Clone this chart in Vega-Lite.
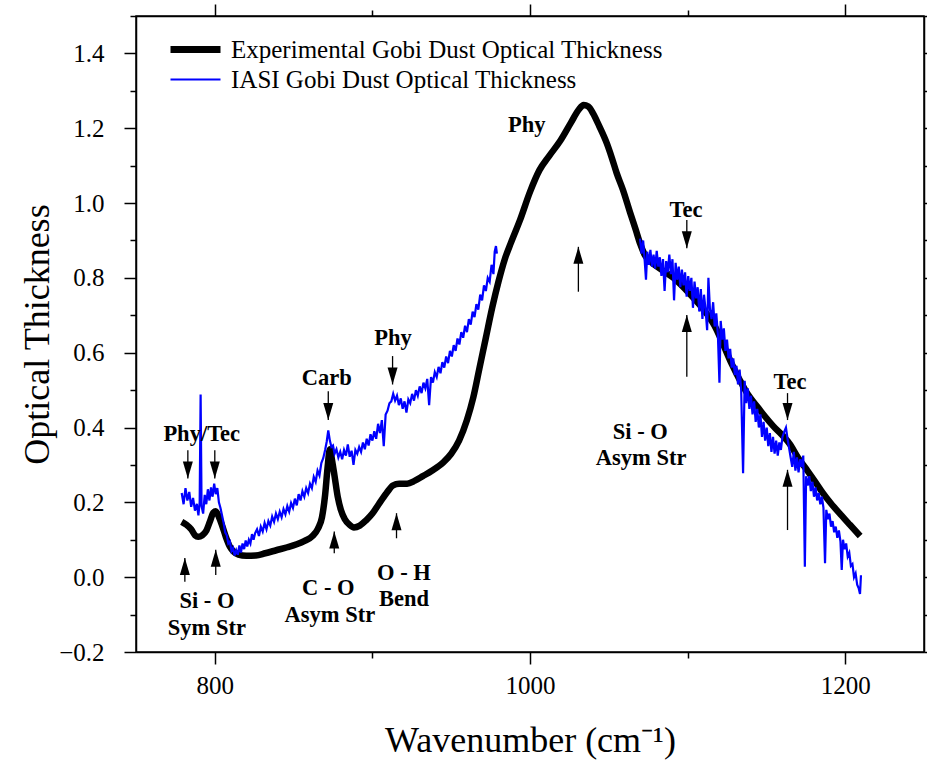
{
  "$schema": "https://vega.github.io/schema/vega-lite/v6.json",
  "width": 788,
  "height": 636,
  "autosize": {"type": "none"},
  "padding": {"left": 136, "top": 16, "right": 3, "bottom": 110},
  "background": "white",
  "config": {
    "view": {"stroke": "black", "strokeWidth": 1.5},
    "font": "Liberation Serif",
    "axis": {"grid": false, "domainColor": "black", "domainWidth": 1.5, "tickColor": "black", "tickWidth": 1.5, "labelColor": "black", "titleColor": "black", "labelFont": "Liberation Serif", "titleFont": "Liberation Serif", "titleFontWeight": "normal"}
  },
  "datasets": {
    "exp": [
      {"w": 779, "v": 0.148}, {"w": 782, "v": 0.14}, {"w": 785, "v": 0.128}, {"w": 787.5, "v": 0.112}, {"w": 789.5, "v": 0.108},
      {"w": 792, "v": 0.112}, {"w": 794.7, "v": 0.125}, {"w": 797, "v": 0.15}, {"w": 799, "v": 0.172}, {"w": 800.5, "v": 0.176},
      {"w": 802.5, "v": 0.162}, {"w": 804.5, "v": 0.14}, {"w": 807, "v": 0.108}, {"w": 809.5, "v": 0.082}, {"w": 812, "v": 0.068},
      {"w": 815, "v": 0.06}, {"w": 820, "v": 0.057}, {"w": 826, "v": 0.058}, {"w": 832, "v": 0.064}, {"w": 839, "v": 0.072},
      {"w": 846, "v": 0.08}, {"w": 852, "v": 0.088}, {"w": 857, "v": 0.097}, {"w": 862, "v": 0.11}, {"w": 865.5, "v": 0.13},
      {"w": 868, "v": 0.16}, {"w": 870, "v": 0.22}, {"w": 871.5, "v": 0.29}, {"w": 873, "v": 0.342}, {"w": 874.5, "v": 0.31},
      {"w": 876, "v": 0.27}, {"w": 878, "v": 0.215}, {"w": 880, "v": 0.18}, {"w": 882.5, "v": 0.155}, {"w": 885.5, "v": 0.14},
      {"w": 888.3, "v": 0.133}, {"w": 892, "v": 0.138}, {"w": 896, "v": 0.152}, {"w": 900, "v": 0.17}, {"w": 904, "v": 0.195},
      {"w": 909, "v": 0.225}, {"w": 913, "v": 0.245}, {"w": 917, "v": 0.25}, {"w": 922, "v": 0.25}, {"w": 927, "v": 0.258},
      {"w": 932, "v": 0.27}, {"w": 938, "v": 0.285}, {"w": 945, "v": 0.307}, {"w": 950, "v": 0.33}, {"w": 955, "v": 0.365},
      {"w": 960, "v": 0.42}, {"w": 964, "v": 0.48}, {"w": 968, "v": 0.56}, {"w": 972, "v": 0.64}, {"w": 976, "v": 0.72},
      {"w": 980, "v": 0.79}, {"w": 984, "v": 0.85}, {"w": 988, "v": 0.895}, {"w": 993.7, "v": 0.955}, {"w": 1000, "v": 1.03},
      {"w": 1006, "v": 1.088}, {"w": 1012, "v": 1.125}, {"w": 1019, "v": 1.165}, {"w": 1026, "v": 1.215}, {"w": 1031, "v": 1.25},
      {"w": 1034, "v": 1.262}, {"w": 1037, "v": 1.258}, {"w": 1040, "v": 1.24}, {"w": 1044, "v": 1.205}, {"w": 1048.7, "v": 1.16},
      {"w": 1052, "v": 1.12}, {"w": 1055, "v": 1.08}, {"w": 1059, "v": 1.035}, {"w": 1063.5, "v": 0.975}, {"w": 1067, "v": 0.93},
      {"w": 1070, "v": 0.89}, {"w": 1073, "v": 0.86}, {"w": 1076, "v": 0.845}, {"w": 1080, "v": 0.832}, {"w": 1091, "v": 0.8},
      {"w": 1101.6, "v": 0.756}, {"w": 1112, "v": 0.705}, {"w": 1118, "v": 0.665}, {"w": 1123, "v": 0.618}, {"w": 1128, "v": 0.57},
      {"w": 1133, "v": 0.528}, {"w": 1138, "v": 0.49}, {"w": 1144, "v": 0.457}, {"w": 1149, "v": 0.43}, {"w": 1154.5, "v": 0.403},
      {"w": 1160, "v": 0.38}, {"w": 1165, "v": 0.355}, {"w": 1170, "v": 0.32}, {"w": 1176, "v": 0.285}, {"w": 1181, "v": 0.255},
      {"w": 1186, "v": 0.224}, {"w": 1191, "v": 0.197}, {"w": 1197, "v": 0.168}, {"w": 1203, "v": 0.14}, {"w": 1209.5, "v": 0.11}
    ],
    "iasi": [
      {"g": 1, "w": 779.0, "v": 0.225}, {"g": 1, "w": 780.2, "v": 0.195}, {"g": 1, "w": 781.4, "v": 0.238}, {"g": 1, "w": 782.6, "v": 0.205},
      {"g": 1, "w": 783.8, "v": 0.228}, {"g": 1, "w": 785.0, "v": 0.188}, {"g": 1, "w": 786.2, "v": 0.212}, {"g": 1, "w": 787.4, "v": 0.178},
      {"g": 1, "w": 788.6, "v": 0.196}, {"g": 1, "w": 789.6, "v": 0.165}, {"g": 1, "w": 790.4, "v": 0.2}, {"g": 1, "w": 791.0, "v": 0.488},
      {"g": 1, "w": 791.6, "v": 0.19}, {"g": 1, "w": 792.6, "v": 0.17}, {"g": 1, "w": 793.6, "v": 0.22}, {"g": 1, "w": 794.6, "v": 0.195},
      {"g": 1, "w": 795.6, "v": 0.235}, {"g": 1, "w": 796.6, "v": 0.205}, {"g": 1, "w": 797.6, "v": 0.24}, {"g": 1, "w": 798.6, "v": 0.215},
      {"g": 1, "w": 799.6, "v": 0.25}, {"g": 1, "w": 800.6, "v": 0.222}, {"g": 1, "w": 801.6, "v": 0.238}, {"g": 1, "w": 802.6, "v": 0.2},
      {"g": 1, "w": 803.6, "v": 0.185}, {"g": 1, "w": 804.6, "v": 0.165}, {"g": 1, "w": 805.6, "v": 0.145}, {"g": 1, "w": 806.6, "v": 0.12},
      {"g": 1, "w": 807.6, "v": 0.112}, {"g": 1, "w": 808.6, "v": 0.09}, {"g": 1, "w": 809.6, "v": 0.095}, {"g": 1, "w": 810.6, "v": 0.07},
      {"g": 1, "w": 811.6, "v": 0.078}, {"g": 1, "w": 812.6, "v": 0.058}, {"g": 1, "w": 813.6, "v": 0.072}, {"g": 1, "w": 814.6, "v": 0.06},
      {"g": 1, "w": 815.6, "v": 0.085}, {"g": 1, "w": 816.6, "v": 0.066}, {"g": 1, "w": 817.6, "v": 0.09}, {"g": 1, "w": 818.6, "v": 0.075},
      {"g": 1, "w": 819.6, "v": 0.098}, {"g": 1, "w": 820.6, "v": 0.082}, {"g": 1, "w": 821.6, "v": 0.1}, {"g": 1, "w": 822.6, "v": 0.09},
      {"g": 1, "w": 823.6, "v": 0.115}, {"g": 1, "w": 824.6, "v": 0.1}, {"g": 1, "w": 825.6, "v": 0.118}, {"g": 1, "w": 826.8, "v": 0.128},
      {"g": 1, "w": 828.0, "v": 0.11}, {"g": 1, "w": 829.2, "v": 0.135}, {"g": 1, "w": 830.4, "v": 0.122}, {"g": 1, "w": 831.6, "v": 0.145},
      {"g": 1, "w": 832.8, "v": 0.128}, {"g": 1, "w": 834.0, "v": 0.15}, {"g": 1, "w": 835.2, "v": 0.138}, {"g": 1, "w": 836.4, "v": 0.162},
      {"g": 1, "w": 837.6, "v": 0.148}, {"g": 1, "w": 838.8, "v": 0.17}, {"g": 1, "w": 840.0, "v": 0.155}, {"g": 1, "w": 841.2, "v": 0.175},
      {"g": 1, "w": 842.4, "v": 0.16}, {"g": 1, "w": 843.6, "v": 0.182}, {"g": 1, "w": 844.8, "v": 0.168}, {"g": 1, "w": 846.0, "v": 0.19},
      {"g": 1, "w": 847.2, "v": 0.175}, {"g": 1, "w": 848.4, "v": 0.198}, {"g": 1, "w": 849.6, "v": 0.185}, {"g": 1, "w": 850.8, "v": 0.21},
      {"g": 1, "w": 852.0, "v": 0.192}, {"g": 1, "w": 853.2, "v": 0.222}, {"g": 1, "w": 854.4, "v": 0.205}, {"g": 1, "w": 855.6, "v": 0.23},
      {"g": 1, "w": 856.8, "v": 0.215}, {"g": 1, "w": 858.0, "v": 0.238}, {"g": 1, "w": 859.2, "v": 0.225}, {"g": 1, "w": 860.4, "v": 0.25},
      {"g": 1, "w": 861.6, "v": 0.238}, {"g": 1, "w": 862.8, "v": 0.268}, {"g": 1, "w": 864.0, "v": 0.255}, {"g": 1, "w": 865.2, "v": 0.285},
      {"g": 1, "w": 866.4, "v": 0.272}, {"g": 1, "w": 867.6, "v": 0.305}, {"g": 1, "w": 868.8, "v": 0.318}, {"g": 1, "w": 870.0, "v": 0.34},
      {"g": 1, "w": 871.0, "v": 0.362}, {"g": 1, "w": 872.0, "v": 0.392}, {"g": 1, "w": 873.0, "v": 0.365}, {"g": 1, "w": 874.0, "v": 0.348},
      {"g": 1, "w": 875.0, "v": 0.352}, {"g": 1, "w": 876.0, "v": 0.33}, {"g": 1, "w": 877.2, "v": 0.342}, {"g": 1, "w": 878.4, "v": 0.32},
      {"g": 1, "w": 879.6, "v": 0.335}, {"g": 1, "w": 880.8, "v": 0.315}, {"g": 1, "w": 882.0, "v": 0.34}, {"g": 1, "w": 883.2, "v": 0.325},
      {"g": 1, "w": 884.4, "v": 0.355}, {"g": 1, "w": 885.6, "v": 0.322}, {"g": 1, "w": 886.8, "v": 0.338}, {"g": 1, "w": 888.0, "v": 0.3},
      {"g": 1, "w": 889.2, "v": 0.34}, {"g": 1, "w": 890.4, "v": 0.33}, {"g": 1, "w": 891.6, "v": 0.348}, {"g": 1, "w": 892.8, "v": 0.335},
      {"g": 1, "w": 894.0, "v": 0.36}, {"g": 1, "w": 895.2, "v": 0.342}, {"g": 1, "w": 896.4, "v": 0.37}, {"g": 1, "w": 897.6, "v": 0.352},
      {"g": 1, "w": 898.8, "v": 0.382}, {"g": 1, "w": 900.0, "v": 0.365}, {"g": 1, "w": 901.2, "v": 0.39}, {"g": 1, "w": 902.4, "v": 0.37},
      {"g": 1, "w": 903.6, "v": 0.41}, {"g": 1, "w": 904.8, "v": 0.385}, {"g": 1, "w": 906.0, "v": 0.42}, {"g": 1, "w": 907.2, "v": 0.35},
      {"g": 1, "w": 908.4, "v": 0.435}, {"g": 1, "w": 909.6, "v": 0.445}, {"g": 1, "w": 910.8, "v": 0.465}, {"g": 1, "w": 912.0, "v": 0.47},
      {"g": 1, "w": 913.2, "v": 0.49}, {"g": 1, "w": 914.4, "v": 0.472}, {"g": 1, "w": 915.6, "v": 0.485}, {"g": 1, "w": 916.8, "v": 0.46},
      {"g": 1, "w": 918.0, "v": 0.478}, {"g": 1, "w": 919.2, "v": 0.45}, {"g": 1, "w": 920.4, "v": 0.47}, {"g": 1, "w": 921.6, "v": 0.44},
      {"g": 1, "w": 922.8, "v": 0.475}, {"g": 1, "w": 924.0, "v": 0.465}, {"g": 1, "w": 925.2, "v": 0.49}, {"g": 1, "w": 926.4, "v": 0.472},
      {"g": 1, "w": 927.6, "v": 0.5}, {"g": 1, "w": 928.8, "v": 0.485}, {"g": 1, "w": 930.0, "v": 0.51}, {"g": 1, "w": 931.2, "v": 0.492},
      {"g": 1, "w": 932.4, "v": 0.52}, {"g": 1, "w": 933.6, "v": 0.505}, {"g": 1, "w": 934.8, "v": 0.53}, {"g": 1, "w": 936.0, "v": 0.46},
      {"g": 1, "w": 937.2, "v": 0.535}, {"g": 1, "w": 938.4, "v": 0.52}, {"g": 1, "w": 939.6, "v": 0.548}, {"g": 1, "w": 940.8, "v": 0.535},
      {"g": 1, "w": 942.0, "v": 0.562}, {"g": 1, "w": 943.2, "v": 0.545}, {"g": 1, "w": 944.4, "v": 0.575}, {"g": 1, "w": 945.6, "v": 0.56},
      {"g": 1, "w": 946.8, "v": 0.59}, {"g": 1, "w": 948.0, "v": 0.572}, {"g": 1, "w": 949.2, "v": 0.605}, {"g": 1, "w": 950.4, "v": 0.59},
      {"g": 1, "w": 951.6, "v": 0.62}, {"g": 1, "w": 952.8, "v": 0.605}, {"g": 1, "w": 954.0, "v": 0.638}, {"g": 1, "w": 955.2, "v": 0.622},
      {"g": 1, "w": 956.4, "v": 0.655}, {"g": 1, "w": 957.6, "v": 0.64}, {"g": 1, "w": 958.8, "v": 0.672}, {"g": 1, "w": 960.0, "v": 0.655},
      {"g": 1, "w": 961.2, "v": 0.69}, {"g": 1, "w": 962.4, "v": 0.675}, {"g": 1, "w": 963.6, "v": 0.71}, {"g": 1, "w": 964.8, "v": 0.695},
      {"g": 1, "w": 966.0, "v": 0.73}, {"g": 1, "w": 967.2, "v": 0.715}, {"g": 1, "w": 968.4, "v": 0.755}, {"g": 1, "w": 969.6, "v": 0.74},
      {"g": 1, "w": 970.8, "v": 0.78}, {"g": 1, "w": 972.0, "v": 0.765}, {"g": 1, "w": 973.2, "v": 0.8}, {"g": 1, "w": 974.4, "v": 0.79},
      {"g": 1, "w": 975.6, "v": 0.835}, {"g": 1, "w": 976.8, "v": 0.81}, {"g": 1, "w": 977.6, "v": 0.87}, {"g": 1, "w": 978.4, "v": 0.885},
      {"g": 1, "w": 979.0, "v": 0.865},
      {"g": 2, "w": 1069.8, "v": 0.905}, {"g": 2, "w": 1070.8, "v": 0.865}, {"g": 2, "w": 1071.8, "v": 0.9}, {"g": 2, "w": 1072.8, "v": 0.845},
      {"g": 2, "w": 1073.6, "v": 0.795}, {"g": 2, "w": 1074.4, "v": 0.87}, {"g": 2, "w": 1075.4, "v": 0.835}, {"g": 2, "w": 1076.4, "v": 0.875},
      {"g": 2, "w": 1077.4, "v": 0.83}, {"g": 2, "w": 1078.4, "v": 0.862}, {"g": 2, "w": 1079.4, "v": 0.825}, {"g": 2, "w": 1080.4, "v": 0.872},
      {"g": 2, "w": 1081.4, "v": 0.83}, {"g": 2, "w": 1082.4, "v": 0.855}, {"g": 2, "w": 1083.4, "v": 0.805}, {"g": 2, "w": 1084.4, "v": 0.85},
      {"g": 2, "w": 1085.4, "v": 0.765}, {"g": 2, "w": 1086.4, "v": 0.845}, {"g": 2, "w": 1087.4, "v": 0.815}, {"g": 2, "w": 1088.4, "v": 0.862},
      {"g": 2, "w": 1089.4, "v": 0.81}, {"g": 2, "w": 1090.4, "v": 0.85}, {"g": 2, "w": 1091.4, "v": 0.74}, {"g": 2, "w": 1092.4, "v": 0.84},
      {"g": 2, "w": 1093.4, "v": 0.795}, {"g": 2, "w": 1094.4, "v": 0.83}, {"g": 2, "w": 1095.4, "v": 0.775}, {"g": 2, "w": 1096.4, "v": 0.822},
      {"g": 2, "w": 1097.4, "v": 0.78}, {"g": 2, "w": 1098.4, "v": 0.815}, {"g": 2, "w": 1099.4, "v": 0.75}, {"g": 2, "w": 1100.4, "v": 0.805},
      {"g": 2, "w": 1101.4, "v": 0.765}, {"g": 2, "w": 1102.4, "v": 0.8}, {"g": 2, "w": 1103.4, "v": 0.72}, {"g": 2, "w": 1104.4, "v": 0.79},
      {"g": 2, "w": 1105.4, "v": 0.745}, {"g": 2, "w": 1106.4, "v": 0.775}, {"g": 2, "w": 1107.4, "v": 0.71}, {"g": 2, "w": 1108.4, "v": 0.77},
      {"g": 2, "w": 1109.4, "v": 0.69}, {"g": 2, "w": 1110.4, "v": 0.755}, {"g": 2, "w": 1111.4, "v": 0.715}, {"g": 2, "w": 1112.4, "v": 0.66},
      {"g": 2, "w": 1113.2, "v": 0.8}, {"g": 2, "w": 1114.2, "v": 0.715}, {"g": 2, "w": 1115.2, "v": 0.69}, {"g": 2, "w": 1116.2, "v": 0.735},
      {"g": 2, "w": 1117.2, "v": 0.67}, {"g": 2, "w": 1118.2, "v": 0.705}, {"g": 2, "w": 1119.2, "v": 0.65}, {"g": 2, "w": 1120.2, "v": 0.52},
      {"g": 2, "w": 1121.0, "v": 0.685}, {"g": 2, "w": 1122.0, "v": 0.635}, {"g": 2, "w": 1123.0, "v": 0.665}, {"g": 2, "w": 1124.0, "v": 0.605},
      {"g": 2, "w": 1125.0, "v": 0.635}, {"g": 2, "w": 1126.0, "v": 0.585}, {"g": 2, "w": 1127.0, "v": 0.61}, {"g": 2, "w": 1128.0, "v": 0.56},
      {"g": 2, "w": 1129.0, "v": 0.585}, {"g": 2, "w": 1130.0, "v": 0.54}, {"g": 2, "w": 1131.0, "v": 0.565}, {"g": 2, "w": 1132.0, "v": 0.515},
      {"g": 2, "w": 1133.0, "v": 0.555}, {"g": 2, "w": 1134.0, "v": 0.5}, {"g": 2, "w": 1135.2, "v": 0.278}, {"g": 2, "w": 1136.2, "v": 0.525},
      {"g": 2, "w": 1137.2, "v": 0.465}, {"g": 2, "w": 1138.2, "v": 0.505}, {"g": 2, "w": 1139.2, "v": 0.45}, {"g": 2, "w": 1140.2, "v": 0.485},
      {"g": 2, "w": 1141.2, "v": 0.435}, {"g": 2, "w": 1142.2, "v": 0.47}, {"g": 2, "w": 1143.2, "v": 0.415}, {"g": 2, "w": 1144.2, "v": 0.45},
      {"g": 2, "w": 1145.2, "v": 0.4}, {"g": 2, "w": 1146.2, "v": 0.435}, {"g": 2, "w": 1147.2, "v": 0.375}, {"g": 2, "w": 1148.2, "v": 0.415},
      {"g": 2, "w": 1149.2, "v": 0.365}, {"g": 2, "w": 1150.2, "v": 0.4}, {"g": 2, "w": 1151.2, "v": 0.35}, {"g": 2, "w": 1152.2, "v": 0.385},
      {"g": 2, "w": 1153.2, "v": 0.335}, {"g": 2, "w": 1154.2, "v": 0.375}, {"g": 2, "w": 1155.2, "v": 0.33}, {"g": 2, "w": 1156.2, "v": 0.365},
      {"g": 2, "w": 1157.2, "v": 0.325}, {"g": 2, "w": 1158.2, "v": 0.36}, {"g": 2, "w": 1159.2, "v": 0.34}, {"g": 2, "w": 1160.2, "v": 0.375},
      {"g": 2, "w": 1161.4, "v": 0.39}, {"g": 2, "w": 1162.4, "v": 0.4}, {"g": 2, "w": 1163.4, "v": 0.37}, {"g": 2, "w": 1164.4, "v": 0.345},
      {"g": 2, "w": 1165.4, "v": 0.32}, {"g": 2, "w": 1166.4, "v": 0.295}, {"g": 2, "w": 1167.4, "v": 0.335}, {"g": 2, "w": 1168.4, "v": 0.285},
      {"g": 2, "w": 1169.4, "v": 0.32}, {"g": 2, "w": 1170.4, "v": 0.28}, {"g": 2, "w": 1171.4, "v": 0.315}, {"g": 2, "w": 1172.4, "v": 0.295},
      {"g": 2, "w": 1173.4, "v": 0.325}, {"g": 2, "w": 1174.4, "v": 0.028}, {"g": 2, "w": 1175.2, "v": 0.27}, {"g": 2, "w": 1176.2, "v": 0.245},
      {"g": 2, "w": 1177.2, "v": 0.27}, {"g": 2, "w": 1178.2, "v": 0.23}, {"g": 2, "w": 1179.2, "v": 0.255}, {"g": 2, "w": 1180.2, "v": 0.215},
      {"g": 2, "w": 1181.2, "v": 0.24}, {"g": 2, "w": 1182.2, "v": 0.205}, {"g": 2, "w": 1183.2, "v": 0.225}, {"g": 2, "w": 1184.2, "v": 0.195},
      {"g": 2, "w": 1185.2, "v": 0.215}, {"g": 2, "w": 1186.2, "v": 0.185}, {"g": 2, "w": 1187.2, "v": 0.037}, {"g": 2, "w": 1188.0, "v": 0.18},
      {"g": 2, "w": 1189.0, "v": 0.155}, {"g": 2, "w": 1190.0, "v": 0.17}, {"g": 2, "w": 1191.0, "v": 0.135}, {"g": 2, "w": 1192.0, "v": 0.15},
      {"g": 2, "w": 1193.0, "v": 0.12}, {"g": 2, "w": 1194.0, "v": 0.135}, {"g": 2, "w": 1195.0, "v": 0.105}, {"g": 2, "w": 1196.0, "v": 0.125},
      {"g": 2, "w": 1197.0, "v": 0.095}, {"g": 2, "w": 1197.8, "v": 0.019}, {"g": 2, "w": 1198.6, "v": 0.1}, {"g": 2, "w": 1199.6, "v": 0.075},
      {"g": 2, "w": 1200.6, "v": 0.09}, {"g": 2, "w": 1201.6, "v": 0.055}, {"g": 2, "w": 1202.6, "v": 0.065}, {"g": 2, "w": 1203.6, "v": 0.03},
      {"g": 2, "w": 1204.6, "v": 0.035}, {"g": 2, "w": 1205.6, "v": 0.0}, {"g": 2, "w": 1206.6, "v": 0.01}, {"g": 2, "w": 1207.6, "v": -0.02},
      {"g": 2, "w": 1208.6, "v": -0.03}, {"g": 2, "w": 1209.4, "v": -0.045}, {"g": 2, "w": 1210.0, "v": 0.005}
    ],
    "notes": [
      {"w": 791.7, "v": 0.383, "t": "Phy/Tec"},
      {"w": 795, "v": -0.065, "t": "Si - O"},
      {"w": 795, "v": -0.136, "t": "Sym Str"},
      {"w": 871, "v": 0.532, "t": "Carb"},
      {"w": 872, "v": -0.03, "t": "C - O"},
      {"w": 873, "v": -0.101, "t": "Asym Str"},
      {"w": 920, "v": 0.01, "t": "O - H"},
      {"w": 920, "v": -0.059, "t": "Bend"},
      {"w": 913, "v": 0.64, "t": "Phy"},
      {"w": 998, "v": 1.209, "t": "Phy"},
      {"w": 1099, "v": 0.982, "t": "Tec"},
      {"w": 1070, "v": 0.389, "t": "Si - O"},
      {"w": 1070.5, "v": 0.318, "t": "Asym Str"},
      {"w": 1165, "v": 0.523, "t": "Tec"}
    ],
    "arrows": [
      {"w": 782.9, "tail": 0.339, "tip": 0.264, "d": "down"},
      {"w": 800, "tail": 0.339, "tip": 0.264, "d": "down"},
      {"w": 781, "tail": -0.012, "tip": 0.051, "d": "up"},
      {"w": 800.6, "tail": 0.006, "tip": 0.073, "d": "up"},
      {"w": 872, "tail": 0.497, "tip": 0.42, "d": "down"},
      {"w": 875.8, "tail": 0.064, "tip": 0.122, "d": "up"},
      {"w": 915.3, "tail": 0.104, "tip": 0.171, "d": "up"},
      {"w": 912.8, "tail": 0.591, "tip": 0.515, "d": "down"},
      {"w": 1030.7, "tail": 0.763, "tip": 0.883, "d": "up"},
      {"w": 1099.5, "tail": 0.955, "tip": 0.879, "d": "down"},
      {"w": 1099.5, "tail": 0.536, "tip": 0.701, "d": "up"},
      {"w": 1163.4, "tail": 0.492, "tip": 0.42, "d": "down"},
      {"w": 1163.4, "tail": 0.126, "tip": 0.287, "d": "up"}
    ]
  },
  "layer": [
    {
      "data": {"name": "exp"},
      "mark": {"type": "line", "interpolate": "monotone", "strokeWidth": 6.5, "strokeCap": "butt"},
      "encoding": {
        "x": {"field": "w", "type": "quantitative", "scale": {"domain": [750, 1250], "nice": false, "zero": false},
          "axis": {"orient": "bottom", "values": [800, 900, 1000, 1100, 1200], "format": "d", "labelExpr": "datum.value % 200 === 0 ? datum.label : ''",
            "tickSize": {"condition": {"test": "datum.value % 200 === 0", "value": 12}, "value": 6},
            "labelFontSize": 25, "labelPadding": 9, "title": "Wavenumber (cm⁻¹)", "titleFontSize": 36, "titlePadding": 25}},
        "y": {"field": "v", "type": "quantitative", "scale": {"domain": [-0.2, 1.5], "nice": false, "zero": false},
          "axis": {"orient": "left", "values": [-0.2, -0.1, 0, 0.1, 0.2, 0.3, 0.4, 0.5, 0.6, 0.7, 0.8, 0.9, 1.0, 1.1, 1.2, 1.3, 1.4, 1.5], "format": ".1f",
            "labelExpr": "abs(round(datum.value * 10)) % 2 === 0 ? datum.label : ''",
            "tickSize": {"condition": {"test": "abs(round(datum.value * 10)) % 2 === 0", "value": 12}, "value": 6},
            "labelFontSize": 25, "labelPadding": 20, "title": "Optical Thickness", "titleFontSize": 36, "titlePadding": 2}},
        "color": {"datum": "Experimental Gobi Dust Optical Thickness", "type": "nominal",
          "scale": {"domain": ["Experimental Gobi Dust Optical Thickness", "IASI Gobi Dust Optical Thickness"], "range": ["black", "#0000ff"]},
          "legend": {"title": null, "orient": "none", "legendX": 47, "legendY": 21, "symbolType": "stroke", "symbolSize": 2500,
            "labelFont": "Liberation Serif", "labelFontSize": 25, "labelColor": "black", "labelLimit": 0, "labelOffset": 23, "rowPadding": 3, "padding": 0,
            "encode": {"symbols": {"update": {"strokeWidth": {"signal": "datum.label === 'IASI Gobi Dust Optical Thickness' ? 2 : 7"}}}}}}
      }
    },
    {
      "data": {"name": "iasi"},
      "mark": {"type": "line", "strokeWidth": 2.2},
      "encoding": {
        "x": {"field": "w", "type": "quantitative",
          "axis": {"orient": "top", "values": [800, 900, 1000, 1100, 1200], "labels": false, "title": null,
            "tickSize": {"condition": {"test": "datum.value % 200 === 0", "value": 12}, "value": 6}}},
        "y": {"field": "v", "type": "quantitative",
          "axis": {"orient": "right", "values": [-0.2, -0.1, 0, 0.1, 0.2, 0.3, 0.4, 0.5, 0.6, 0.7, 0.8, 0.9, 1.0, 1.1, 1.2, 1.3, 1.4, 1.5], "labels": false, "title": null,
            "tickSize": {"condition": {"test": "abs(round(datum.value * 10)) % 2 === 0", "value": 12}, "value": 6}}},
        "detail": {"field": "g", "type": "nominal"},
        "color": {"datum": "IASI Gobi Dust Optical Thickness", "type": "nominal"}
      }
    },
    {
      "data": {"name": "arrows"},
      "mark": {"type": "rule", "color": "black", "strokeWidth": 1.3},
      "encoding": {
        "x": {"field": "w", "type": "quantitative", "axis": null},
        "y": {"field": "tail", "type": "quantitative", "axis": null},
        "y2": {"field": "tip"}
      }
    },
    {
      "data": {"name": "arrows"},
      "transform": [{"filter": "datum.d === 'up'"}],
      "mark": {"type": "point", "shape": "M0,0L1,3.4L-1,3.4Z", "filled": true, "color": "black", "opacity": 1, "size": 100, "strokeWidth": 0},
      "encoding": {
        "x": {"field": "w", "type": "quantitative", "axis": null},
        "y": {"field": "tip", "type": "quantitative", "axis": null}
      }
    },
    {
      "data": {"name": "arrows"},
      "transform": [{"filter": "datum.d === 'down'"}],
      "mark": {"type": "point", "shape": "M0,0L1,-3.4L-1,-3.4Z", "filled": true, "color": "black", "opacity": 1, "size": 100, "strokeWidth": 0},
      "encoding": {
        "x": {"field": "w", "type": "quantitative", "axis": null},
        "y": {"field": "tip", "type": "quantitative", "axis": null}
      }
    },
    {
      "data": {"name": "notes"},
      "mark": {"type": "text", "font": "Liberation Serif", "fontWeight": "bold", "fontSize": 22.5, "color": "black", "align": "center", "baseline": "middle"},
      "encoding": {
        "x": {"field": "w", "type": "quantitative", "axis": null},
        "y": {"field": "v", "type": "quantitative", "axis": null},
        "text": {"field": "t"}
      }
    }
  ],
  "resolve": {"axis": {"x": "independent", "y": "independent"}}
}
